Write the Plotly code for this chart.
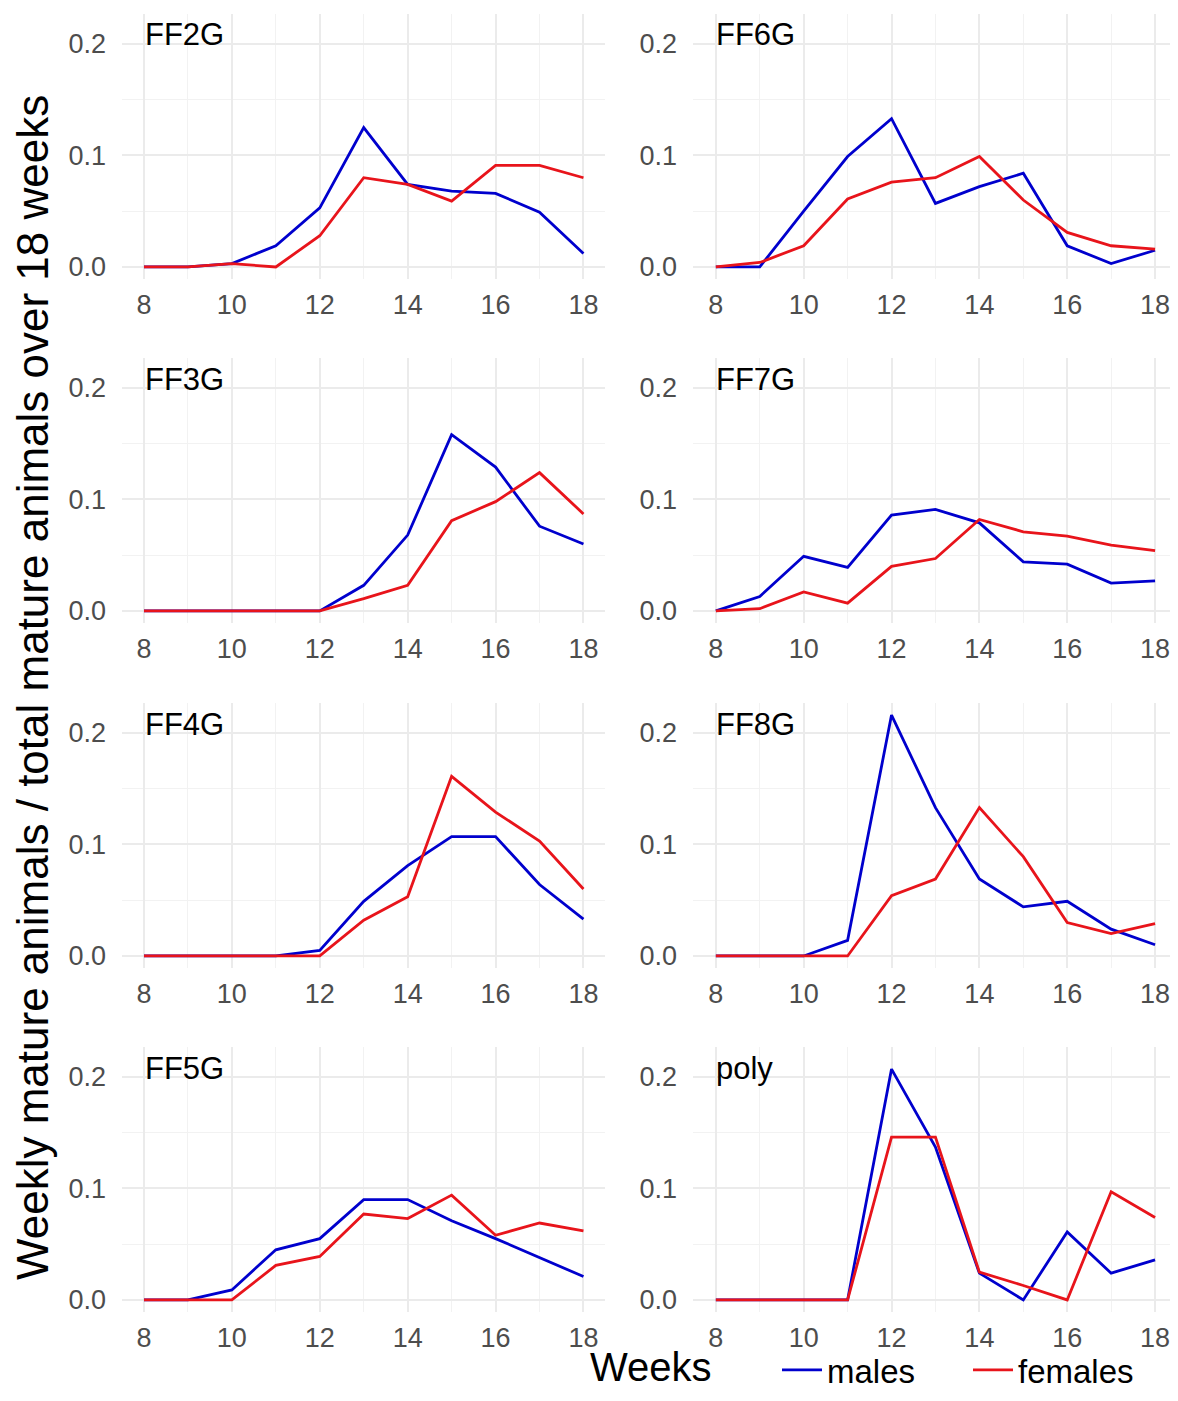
import plotly.graph_objects as go

weeks = [8, 9, 10, 11, 12, 13, 14, 15, 16, 17, 18]
panel_names = ["FF2G", "FF6G", "FF3G", "FF7G", "FF4G", "FF8G", "FF5G", "poly"]

ff2g_males   = [0, 0, 0.003, 0.019, 0.053, 0.125, 0.074, 0.068, 0.066, 0.049, 0.012]
ff2g_females = [0, 0, 0.003, 0.000, 0.028, 0.080, 0.074, 0.059, 0.091, 0.091, 0.080]
ff6g_males   = [0, 0, 0.050, 0.099, 0.133, 0.057, 0.072, 0.084, 0.019, 0.003, 0.015]
ff6g_females = [0, 0.004, 0.019, 0.061, 0.076, 0.080, 0.099, 0.060, 0.031, 0.019, 0.016]
ff3g_males   = [0, 0, 0, 0, 0, 0.023, 0.068, 0.158, 0.129, 0.076, 0.060]
ff3g_females = [0, 0, 0, 0, 0, 0.011, 0.023, 0.081, 0.098, 0.124, 0.087]
ff7g_males   = [0, 0.013, 0.049, 0.039, 0.086, 0.091, 0.079, 0.044, 0.042, 0.025, 0.027]
ff7g_females = [0, 0.002, 0.017, 0.007, 0.040, 0.047, 0.082, 0.071, 0.067, 0.059, 0.054]
ff4g_males   = [0, 0, 0, 0, 0.005, 0.049, 0.081, 0.107, 0.107, 0.064, 0.033]
ff4g_females = [0, 0, 0, 0, 0, 0.032, 0.053, 0.161, 0.129, 0.103, 0.060]
ff8g_males   = [0, 0, 0, 0.014, 0.216, 0.133, 0.069, 0.044, 0.049, 0.024, 0.010]
ff8g_females = [0, 0, 0, 0, 0.054, 0.069, 0.133, 0.089, 0.030, 0.020, 0.029]
ff5g_males   = [0, 0, 0.009, 0.045, 0.055, 0.090, 0.090, 0.071, 0.055, 0.038, 0.021]
ff5g_females = [0, 0, 0, 0.031, 0.039, 0.077, 0.073, 0.094, 0.058, 0.069, 0.062]
poly_males   = [0, 0, 0, 0, 0.207, 0.137, 0.024, 0.000, 0.061, 0.024, 0.036]
poly_females = [0, 0, 0, 0, 0.146, 0.146, 0.025, 0.013, 0.000, 0.097, 0.074]

males_series = [ff2g_males, ff6g_males, ff3g_males, ff7g_males,
                ff4g_males, ff8g_males, ff5g_males, poly_males]
females_series = [ff2g_females, ff6g_females, ff3g_females, ff7g_females,
                  ff4g_females, ff8g_females, ff5g_females, poly_females]

x_ticks = [8, 10, 12, 14, 16, 18]
y_ticks = [0.0, 0.1, 0.2]

MALE_COLOR = "#0000CD"
FEMALE_COLOR = "#E8141B"

# page offset (body margin) and figure size so the whole figure fits the window
OFF = 8
FW, FH = 1162, 1384


def fx(px):
    return min(max((px - OFF) / FW, 0.0), 1.0)


def fy(py):
    return min(max(1 - (py - OFF) / FH, 0.0), 1.0)


# target screen positions (px) of panels
col_px = [(122, 605), (693, 1170)]
col_range = [[7.5, 18.49], [7.48, 18.34]]
row_px = [(14, 279), (358, 623), (703, 968), (1047, 1312)]

fig = go.Figure()
layout = dict(
    width=FW, height=FH,
    margin=dict(l=0, r=0, t=0, b=0, autoexpand=False),
    plot_bgcolor="white", paper_bgcolor="white",
    font=dict(family="Liberation Sans, Arial, sans-serif", color="#4D4D4D"),
    showlegend=True,
)
annotations = []

for i, name in enumerate(panel_names):
    r, c = divmod(i, 2)
    n = i + 1
    xs = "x" if n == 1 else f"x{n}"
    ys = "y" if n == 1 else f"y{n}"
    fig.add_trace(go.Scatter(x=weeks, y=males_series[i], mode="lines",
                             line=dict(color=MALE_COLOR, width=2.8),
                             name="males", legendgroup="m", showlegend=(i == 0),
                             xaxis=xs, yaxis=ys))
    fig.add_trace(go.Scatter(x=weeks, y=females_series[i], mode="lines",
                             line=dict(color=FEMALE_COLOR, width=2.8),
                             name="females", legendgroup="f", showlegend=(i == 0),
                             xaxis=xs, yaxis=ys))
    x0, x1 = col_px[c]
    t, b = row_px[r]
    layout[f"xaxis{n}" if n > 1 else "xaxis"] = dict(
        domain=[fx(x0), fx(x1)], anchor=ys, range=col_range[c],
        tickvals=x_ticks, showgrid=True, gridcolor="#EBEBEB", gridwidth=2,
        minor=dict(dtick=1, tick0=7, showgrid=True, gridcolor="#F2F2F2", gridwidth=1),
        zeroline=False, showline=False, ticks="",
        tickfont=dict(size=27, color="#4D4D4D"), ticklabelstandoff=7,
        ticklabeloverflow="allow",
    )
    layout[f"yaxis{n}" if n > 1 else "yaxis"] = dict(
        domain=[fy(b), fy(t)], anchor=xs, range=[-0.0108, 0.2268],
        tickvals=y_ticks, tickformat=".1f", showgrid=True, gridcolor="#EBEBEB", gridwidth=2,
        minor=dict(tickvals=[0.05, 0.15], showgrid=True, gridcolor="#F2F2F2", gridwidth=1),
        zeroline=False, showline=False, ticks="",
        tickfont=dict(size=27, color="#4D4D4D"), ticklabelstandoff=15,
    )
    annotations.append(dict(
        text=name, xref="paper", yref="paper",
        x=fx(x0 + 21), y=fy(t + 21),
        xanchor="left", yanchor="middle", showarrow=False,
        font=dict(size=31, color="black"),
    ))

annotations.append(dict(
    text="Weekly mature animals / total mature animals over 18 weeks",
    xref="paper", yref="paper", x=fx(32), y=fy(688),
    xanchor="center", yanchor="middle", textangle=-90, showarrow=False,
    font=dict(size=44, color="black"),
))
annotations.append(dict(
    text="Weeks", xref="paper", yref="paper", x=fx(651), y=fy(1367),
    xanchor="center", yanchor="middle", showarrow=False,
    font=dict(size=40, color="black"),
))

layout["annotations"] = annotations
layout["legend"] = dict(
    orientation="h", x=fx(777), y=fy(1370), xanchor="left", yanchor="middle",
    font=dict(size=33, color="black"), bgcolor="rgba(0,0,0,0)",
    itemwidth=40, entrywidth=136, entrywidthmode="pixels",
)
fig.update_layout(**layout)
fig.write_html("out.html")
